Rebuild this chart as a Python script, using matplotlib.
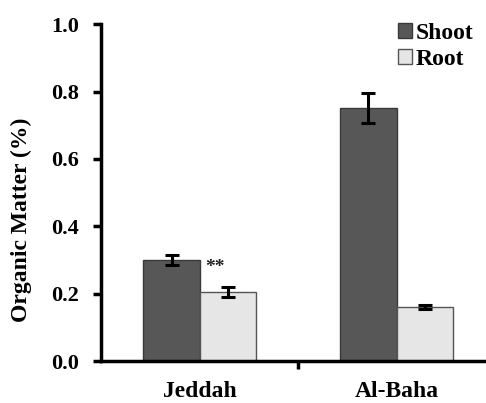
import numpy as np
import matplotlib.pyplot as plt

sites = ["Jeddah", "Al-Baha"]
shoot = [0.30, 0.752]
shoot_err = [0.016, 0.045]
root = [0.205, 0.16]
root_err = [0.016, 0.006]

plt.rcParams['font.family'] = ['Liberation Serif', 'DejaVu Serif']
plt.rcParams['font.weight'] = 'bold'

fig = plt.figure(figsize=(4.86, 4.03), dpi=100)
ax = fig.add_axes([0.208, 0.104, 0.792, 0.836])

x = np.arange(len(sites))
w = 0.285
ax.bar(x - w/2, shoot, w, color='#575757', edgecolor='#3a3a3a', linewidth=1, label='Shoot')
ax.bar(x + w/2, root, w, color='#e6e6e6', edgecolor='#555555', linewidth=1, label='Root')
ax.errorbar(x - w/2, shoot, yerr=shoot_err, fmt='none', ecolor='black',
            elinewidth=2.2, capsize=5, capthick=2.2)
ax.errorbar(x + w/2, root, yerr=root_err, fmt='none', ecolor='black',
            elinewidth=2.2, capsize=5, capthick=2.2)
ax.text(0.08, 0.277, '**', ha='center', va='center', fontsize=14, color='#222222')

ax.set_ylim(0, 1.0)
ax.set_xlim(-0.5, 1.454)
ax.set_yticks([0.0, 0.2, 0.4, 0.6, 0.8, 1.0])
ax.set_yticklabels(['0.0', '0.2', '0.4', '0.6', '0.8', '1.0'], fontsize=16, fontweight='bold')
ax.set_xticks([0.5])
ax.set_xticklabels([''])
ax.set_xticks(x, minor=True)
ax.set_xticklabels(sites, minor=True, fontsize=17, fontweight='bold')
ax.tick_params(axis='x', which='minor', length=0, pad=14)
ax.tick_params(axis='both', which='major', width=2.5, length=6, direction='out')
ax.tick_params(axis='y', which='major', pad=10)
ax.set_ylabel('Organic Matter (%)', fontsize=17, fontweight='bold')
ax.yaxis.set_label_coords(-0.18, 0.418)

for s in ['top', 'right']:
    ax.spines[s].set_visible(False)
for s in ['left', 'bottom']:
    ax.spines[s].set_linewidth(2.5)

ax.legend(loc='upper right', bbox_to_anchor=(1.005, 1.045), frameon=False,
          prop={'weight': 'bold', 'size': 17}, handlelength=0.6, handleheight=0.6,
          handletextpad=0.15, labelspacing=0.2, borderpad=0.1)

fig.savefig('out.png', dpi=100)
